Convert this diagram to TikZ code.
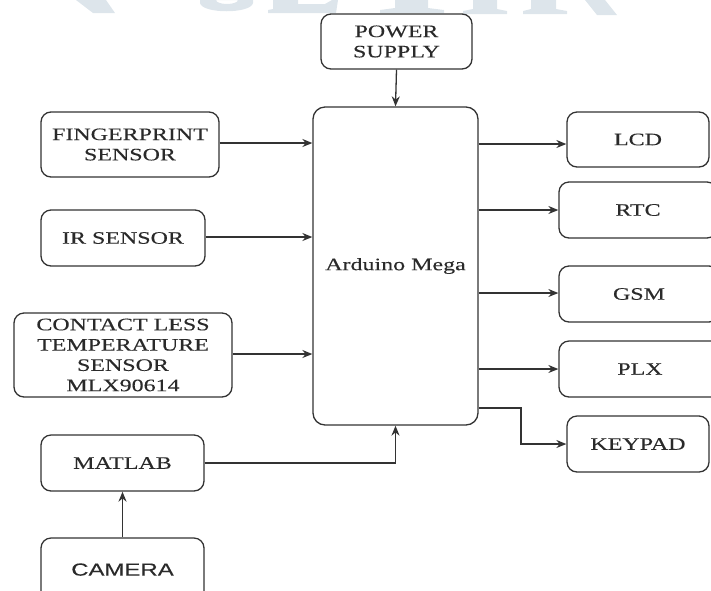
\documentclass[tikz,border=0pt]{standalone}
\usepackage{fontspec}
\setmainfont{Liberation Serif}[FakeStretch=1.37,FakeBold=0.15]
\newfontfamily\camfont{Liberation Sans}[FakeStretch=1.37,FakeBold=0.15]
\usetikzlibrary{arrows.meta}
\definecolor{ln}{HTML}{333333}
\definecolor{tx}{HTML}{2A2A2A}
\definecolor{wm}{HTML}{DDE5EB}
\tikzset{
  blk/.style={draw=ln, line width=1.3pt, rounded corners=10pt, fill=white,
    inner sep=0pt, align=center, text=tx,
    font=\fontsize{17.5}{20.3}\selectfont},
  arr/.style={draw=ln, line width=1.3pt, -{Stealth[length=10pt,width=8pt]}},
  wmshape/.style={fill=wm, draw=none}
}
\begin{document}
\begin{tikzpicture}[x=1pt,y=-1pt]
\useasboundingbox (0,0) rectangle (711,590);
\clip (0,0) rectangle (711,590);
% watermark remnants (bottoms of large letters)
\fill[wmshape] (76,0) -- (106,0) -- (115,13) -- (93,13) -- cycle;
\fill[wmshape, even odd rule] (200,0) -- (200,3) .. controls (202,14) and (251,14) .. (253,3) -- (253,0) -- cycle
  (227,0) ellipse [x radius=11, y radius=4];
\fill[wmshape] (273,0) -- (298,0) -- (298,4) -- (325,4) -- (332,0) -- (338,0) -- (336,13) -- (268,13) -- (268,10) -- (273,9) -- cycle;
\fill[wmshape] (395,0) -- (428,0) -- (428,8) -- (444,10) -- (444,13) -- (380,13) -- (380,10) -- (395,8) -- cycle;
\fill[wmshape] (473,0) -- (497,0) -- (497,9) -- (507,11) -- (507,14) -- (463,14) -- (463,11) -- (473,9) -- cycle;
\fill[wmshape] (531,0) -- (556,0) -- (556,9) -- (567,11) -- (567,14) -- (523,14) -- (523,11) -- (531,9) -- cycle;
\fill[wmshape] (585,0) -- (605,0) -- (617,15) -- (597,15) -- cycle;
% blocks
\node[blk, minimum width=151pt, minimum height=55pt] (pow) at (396.5,41.5) {POWER\\SUPPLY};
\node[blk, minimum width=165pt, minimum height=318pt, rounded corners=12pt] (ard) at (395.5,266) {Arduino Mega};
\node[blk, minimum width=178pt, minimum height=65pt] (fp) at (130,144.5) {FINGERPRINT\\SENSOR};
\node[blk, minimum width=164pt, minimum height=56pt] (ir) at (123,238) {IR SENSOR};
\node[blk, minimum width=218pt, minimum height=84pt] (cl) at (123,355) {CONTACT LESS\\TEMPERATURE\\SENSOR\\MLX90614};
\node[blk, minimum width=163pt, minimum height=56pt] (mat) at (122.5,463) {MATLAB};
\node[blk, minimum width=163pt, minimum height=70pt, font=\camfont\fontsize{17.5}{20.3}\selectfont] (cam) at (122.5,573) {\raisebox{7pt}{CAMERA}};
\node[blk, minimum width=142pt, minimum height=55pt] (lcd) at (638,139.5) {LCD};
\node[blk, minimum width=158pt, minimum height=56pt] (rtc) at (638,210) {RTC};
\node[blk, minimum width=160pt, minimum height=56pt] (gsm) at (639,294) {GSM};
\node[blk, minimum width=162pt, minimum height=56pt] (plx) at (640,369) {PLX};
\node[blk, minimum width=142pt, minimum height=56pt] (kp) at (638,444) {KEYPAD};
% connectors
\draw[arr] (pow.south) -- (ard.north);
\draw[arr] (fp.east |- 0,143) -- (ard.west |- 0,143);
\draw[arr] (ir.east |- 0,237) -- (ard.west |- 0,237);
\draw[arr] (cl.east |- 0,354) -- (ard.west |- 0,354);
\draw[arr] (mat.east) -| (ard.south);
\draw[arr] (cam.north) -- (mat.south);
\draw[arr] (ard.east |- 0,144) -- (lcd.west |- 0,144);
\draw[arr] (ard.east |- rtc.west) -- (rtc.west);
\draw[arr] (ard.east |- 0,293) -- (gsm.west |- 0,293);
\draw[arr] (ard.east |- plx.west) -- (plx.west);
\coordinate (kb) at (521,408);
\draw[arr] (ard.east |- kb) -- (kb) |- (kp.west);
\end{tikzpicture}
\end{document}
